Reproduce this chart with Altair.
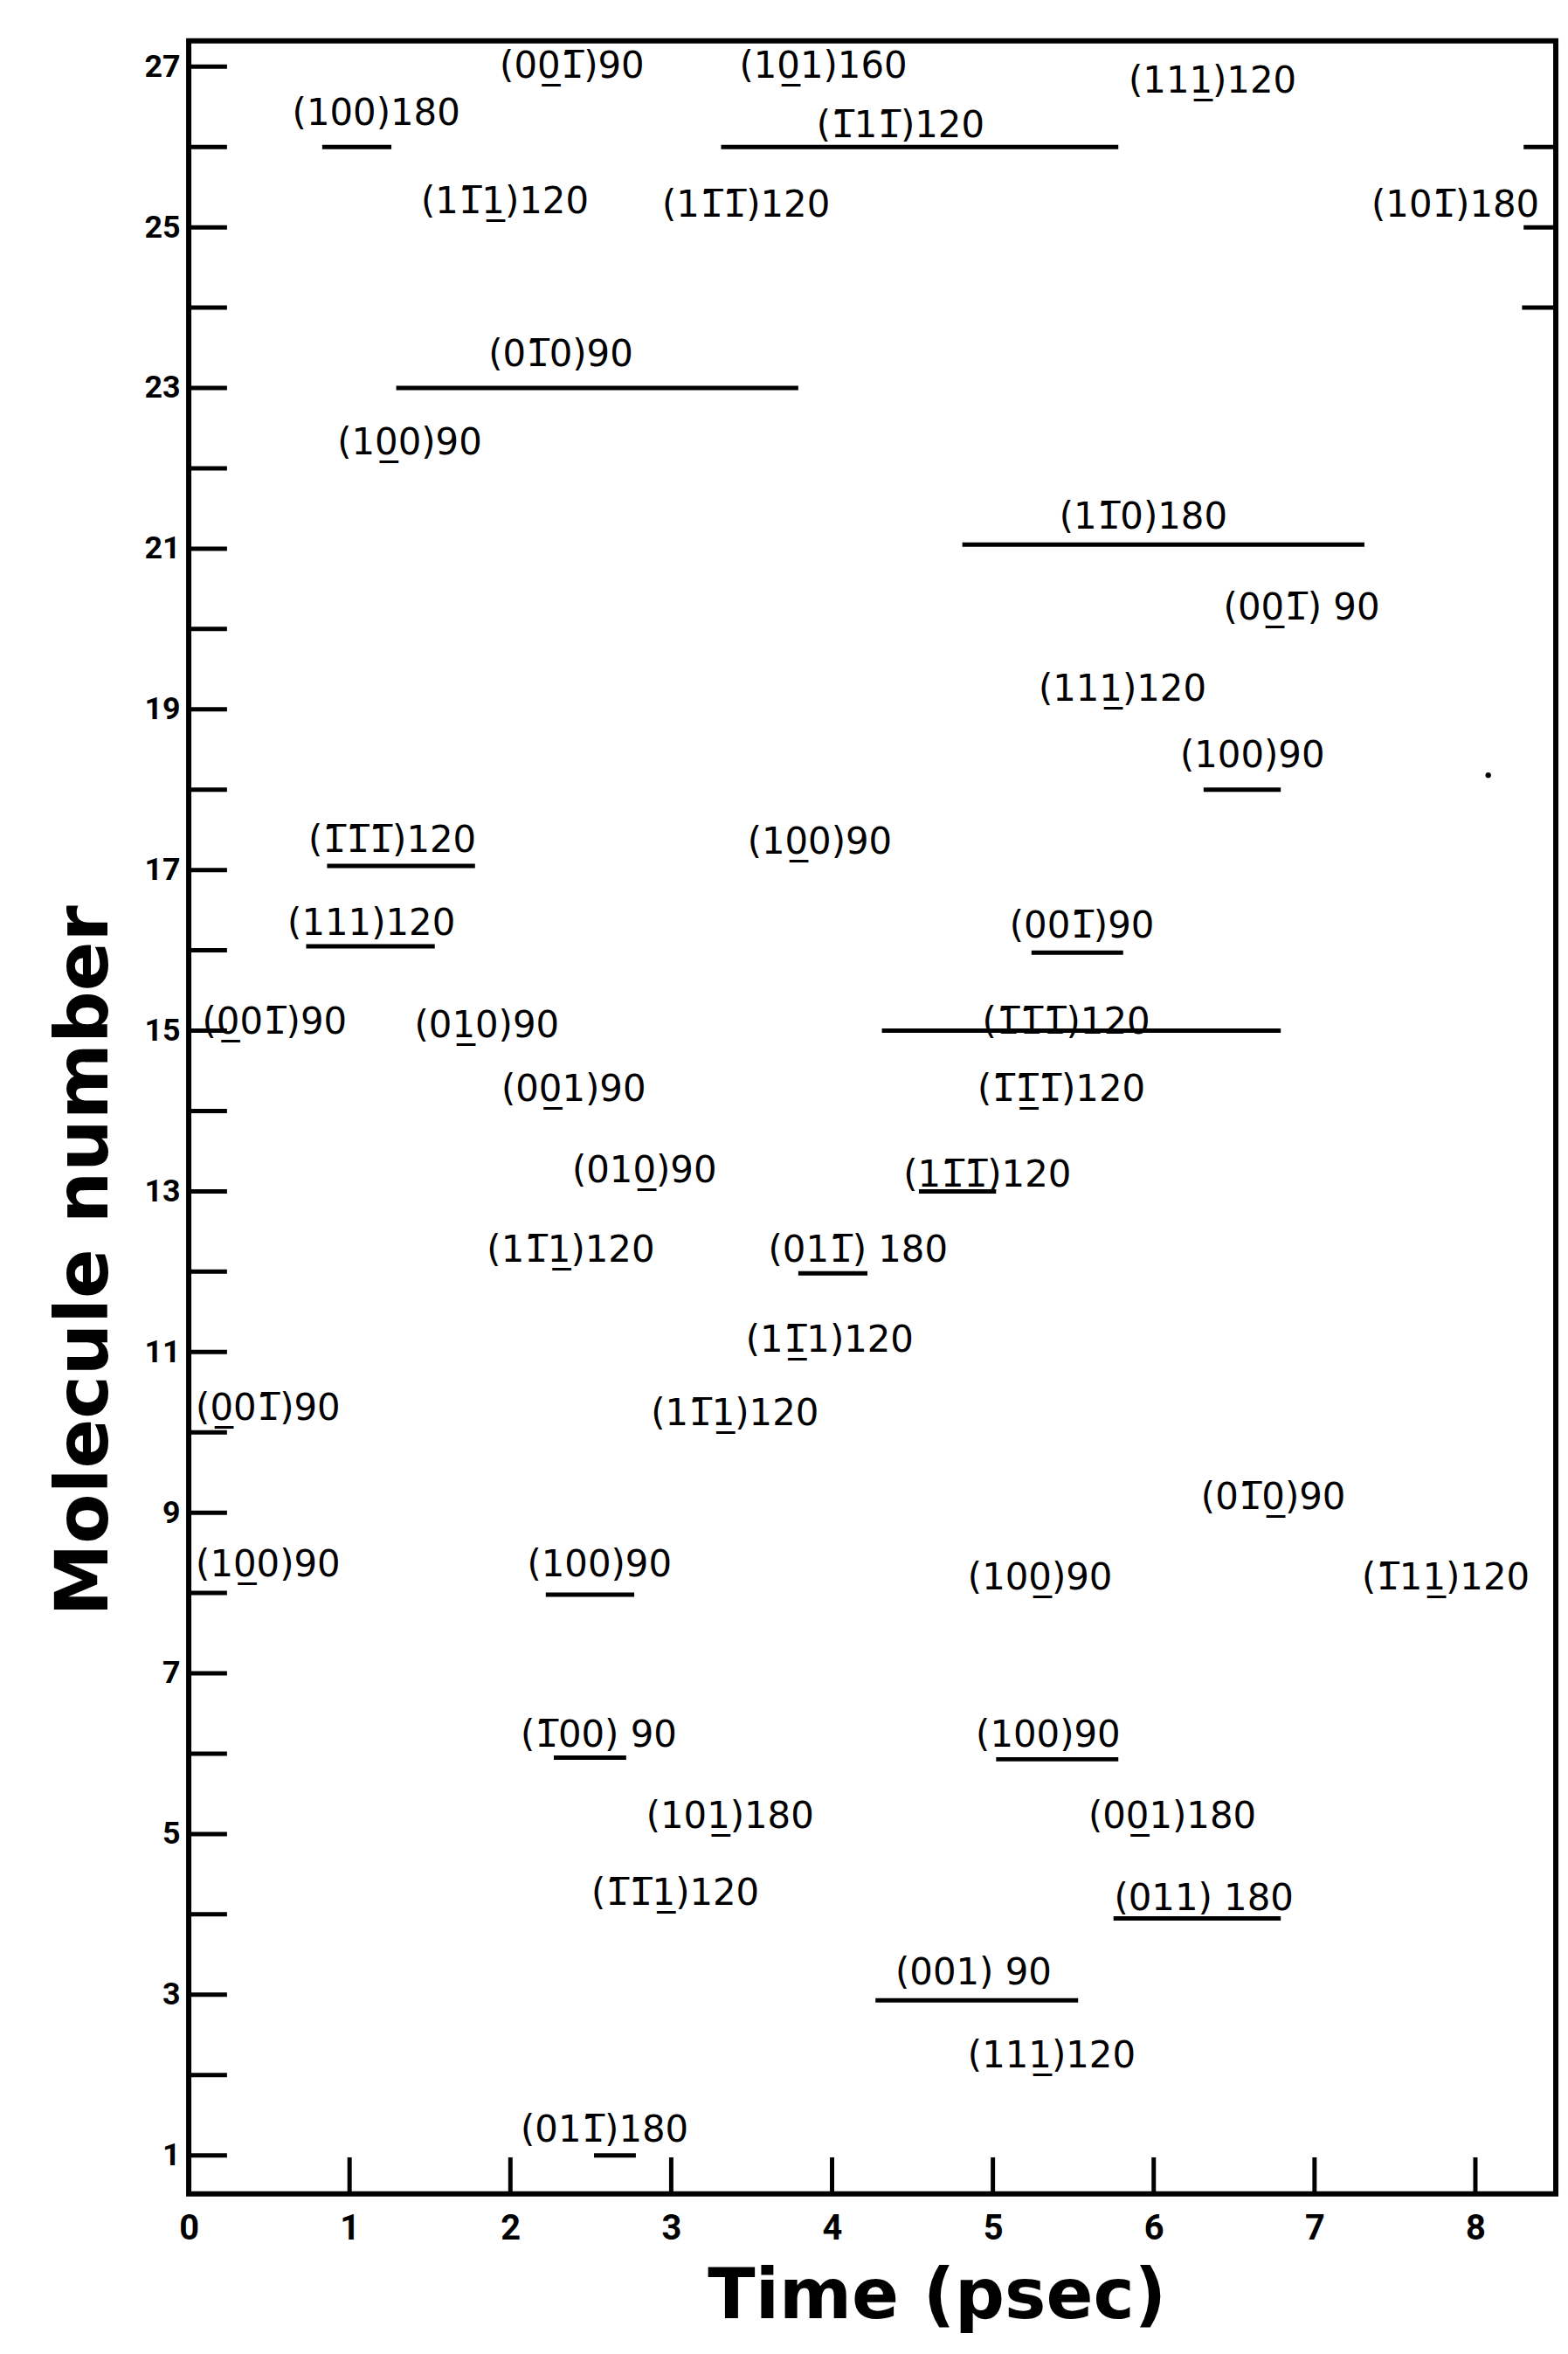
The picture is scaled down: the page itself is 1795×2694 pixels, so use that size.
import altair as alt
import pandas as pd

OV = "\u0305"  # combining overline (bar over index)
UL = "\u0332"  # combining low line

# ---- labels: text, left x (psec), centre y (molecule number) ----
label_text = [
    "(00" + UL + "1" + OV + ")90", "(10" + UL + "1)160", "(111" + UL + ")120",
    "(100)180", "(1" + OV + "11" + OV + ")120", "(11" + OV + "1" + UL + ")120",
    "(11" + OV + "1" + OV + ")120", "(101" + OV + ")180", "(01" + OV + "0)90",
    "(10" + UL + "0)90", "(11" + OV + "0)180", "(00" + UL + "1" + OV + ") 90",
    "(111" + UL + ")120", "(100)90", "(1" + OV + "1" + OV + "1" + OV + ")120",
    "(111)120", "(0" + UL + "01" + OV + ")90", "(01" + UL + "0)90",
    "(10" + UL + "0)90", "(001" + OV + ")90", "(1" + OV + "1" + OV + "1" + OV + ")120",
    "(00" + UL + "1)90", "(1" + OV + "1" + OV + UL + "1" + OV + ")120", "(010" + UL + ")90",
    "(11" + OV + "1" + OV + ")120", "(11" + OV + "1" + UL + ")120", "(011" + OV + ") 180",
    "(11" + OV + UL + "1)120", "(0" + UL + "01" + OV + ")90", "(11" + OV + "1" + UL + ")120",
    "(01" + OV + "0" + UL + ")90", "(10" + UL + "0)90", "(100)90",
    "(100" + UL + ")90", "(1" + OV + "11" + UL + ")120", "(1" + OV + "00) 90",
    "(100)90", "(101" + UL + ")180", "(00" + UL + "1)180",
    "(1" + OV + "1" + OV + "1" + UL + ")120", "(011) 180", "(001) 90",
    "(111" + UL + ")120", "(011" + OV + ")180",
]
label_x = [
    1.95, 3.44, 5.86,
    0.66, 3.92, 1.46,
    2.96, 7.37, 1.88,
    0.94, 5.43, 6.45,
    5.30, 6.18, 0.76,
    0.63, 0.10, 1.42,
    3.49, 5.12, 4.95,
    1.96, 4.92, 2.40,
    4.46, 1.87, 3.62,
    3.48, 0.06, 2.89,
    6.31, 0.06, 2.12,
    4.86, 7.31, 2.08,
    4.91, 2.86, 5.61,
    2.52, 5.77, 4.41,
    4.86, 2.08,
]
label_y = [
    27.00, 27.00, 26.82,
    26.42, 26.26, 25.32,
    25.27, 25.27, 23.41,
    22.31, 21.39, 20.26,
    19.25, 18.42, 17.37,
    16.33, 15.10, 15.06,
    17.34, 16.30, 15.10,
    14.26, 14.26, 13.25,
    13.20, 12.26, 12.26,
    11.14, 10.29, 10.23,
    9.19, 8.35, 8.35,
    8.19, 8.19, 6.23,
    6.23, 5.22, 5.22,
    4.26, 4.19, 3.27,
    2.23, 1.31,
]

# ---- horizontal duration lines ----
seg_start = [0.83, 3.31, 8.30, 8.30, 8.29, 1.29, 4.81, 6.31, 0.86, 0.73,
             5.24, 4.31, 4.54, 3.79, 2.22, 2.27, 5.02, 5.75, 4.27, 2.52]
seg_end = [1.26, 5.78, 8.50, 8.50, 8.50, 3.79, 7.31, 6.79, 1.78, 1.53,
           5.81, 6.79, 5.02, 4.22, 2.77, 2.72, 5.78, 6.79, 5.53, 2.78]
seg_y = [26.0, 26.0, 26.0, 25.0, 24.0, 23.0, 21.05, 18.0, 17.05, 16.05,
         15.97, 15.0, 13.0, 11.98, 7.98, 5.95, 5.93, 3.95, 2.93, 1.0]

# ---- speck in the scan ----
dot_x = [8.08]
dot_y = [18.18]

# ---- axis ticks / labels ----
ytick_pos = list(range(1, 28))
ylabel_vals = list(range(1, 28, 2))
xtick_pos = list(range(1, 9))
xlabel_vals = list(range(0, 9))

W, H = 1572, 2475

labels = pd.DataFrame({"x": label_x, "y": label_y, "t": label_text})
segs = pd.DataFrame({"x": seg_start, "x2": seg_end, "y": seg_y})
dots = pd.DataFrame({"x": dot_x, "y": dot_y})
yt = pd.DataFrame({"y": ytick_pos})
xt = pd.DataFrame({"x": xtick_pos})

xscale = alt.Scale(domain=[0, 8.5], nice=False, zero=False)
yscale = alt.Scale(domain=[0.52, 27.32], nice=False, zero=False)

xaxis = alt.Axis(
    values=xlabel_vals, title="Time (psec)", ticks=False, domain=False, grid=False,
    labelFont="Roboto", labelFontSize=40, labelFontWeight="bold", labelColor="black",
    labelPadding=20, labelFlush=False, labelOverlap=False,
    titleFont="DejaVu Sans", titleFontSize=80, titleFontWeight="bold", titleColor="black",
    titleX=860, titleY=142, titleBaseline="alphabetic", titleAlign="center",
)
yaxis = alt.Axis(
    values=ylabel_vals, title="Molecule number", ticks=False, domain=False, grid=False,
    labelFont="Roboto", labelFontSize=36, labelFontWeight="bold", labelColor="black",
    labelPadding=10, labelOverlap=False, labelFlush=False,
    titleFont="DejaVu Sans", titleFontSize=84, titleFontWeight="bold", titleColor="black",
    titleAngle=270, titleX=-94, titleY=1402, titleBaseline="alphabetic", titleAlign="center",
)

X = alt.X("x:Q", scale=xscale, axis=xaxis)
Y = alt.Y("y:Q", scale=yscale, axis=yaxis)

text_layer = alt.Chart(labels).mark_text(
    align="left", baseline="middle", font="DejaVu Sans", fontSize=42,
    color="black", dx=-3,
).encode(x=X, y=Y, text="t:N")

seg_layer = alt.Chart(segs).mark_rule(color="black", strokeWidth=5).encode(
    x=X, x2="x2:Q", y=Y
)

dot_layer = alt.Chart(dots).mark_circle(color="black", size=40, opacity=1).encode(x=X, y=Y)

ytick_layer = alt.Chart(yt).mark_rule(color="black", strokeWidth=5).encode(
    y=Y, x=alt.value(0), x2=alt.value(44)
)
xtick_layer = alt.Chart(xt).mark_rule(color="black", strokeWidth=5).encode(
    x=X, y=alt.value(H), y2=alt.value(H - 42)
)

chart = alt.layer(text_layer, seg_layer, dot_layer, ytick_layer, xtick_layer).properties(
    width=W, height=H,
    padding={"left": 209, "top": 33, "right": 6, "bottom": 170},
    autosize=alt.AutoSizeParams(type="none"),
    background="white",
).configure_view(stroke="black", strokeWidth=6)

chart.save("out.html", embed_options={"renderer": "svg", "actions": False})
